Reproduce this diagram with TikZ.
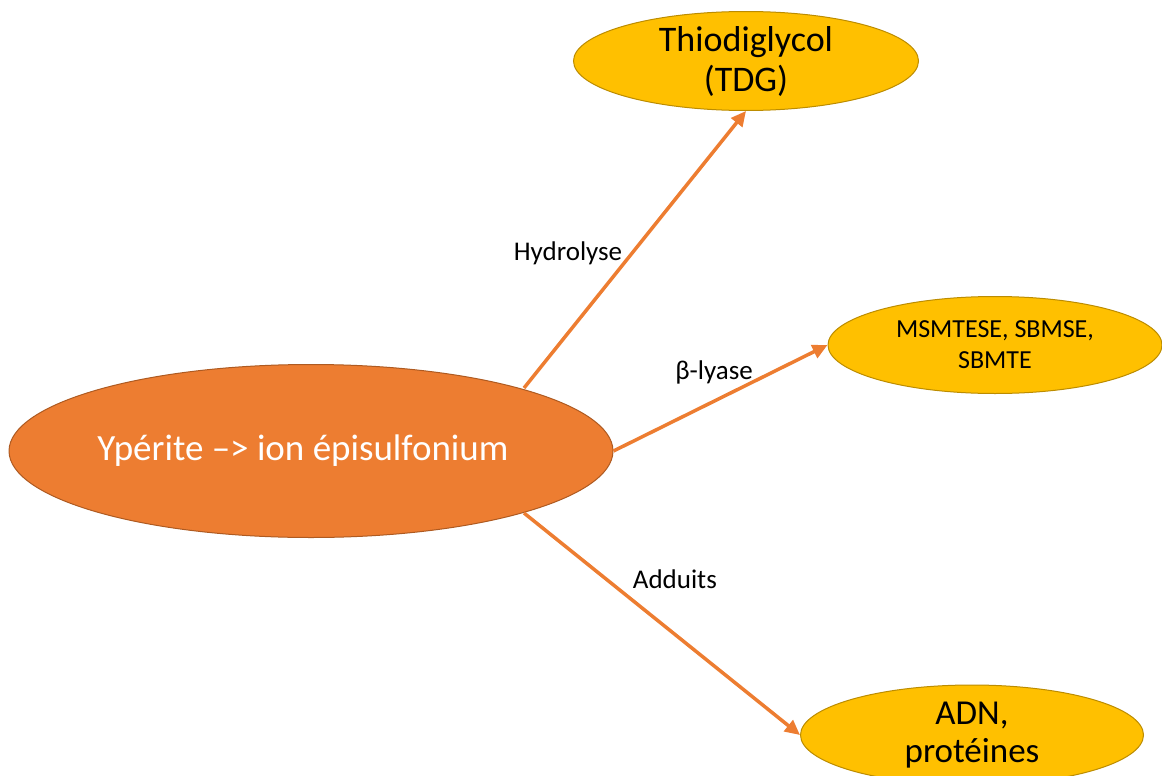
\documentclass[tikz,border=0pt]{standalone}
\usepackage{fontspec}
\setmainfont{Carlito}
\usetikzlibrary{arrows.meta,shapes.geometric}
\definecolor{orangeA}{HTML}{ED7D31}
\definecolor{orangeB}{HTML}{AE5A21}
\definecolor{goldA}{HTML}{FFC000}
\definecolor{goldB}{HTML}{BC8C00}
\begin{document}
\begin{tikzpicture}[x=1pt,y=-1pt,
    mainnode/.style={ellipse,draw=orangeB,fill=orangeA,line width=1pt,text=white,
      minimum width=603pt,minimum height=173pt,inner sep=0pt,
      font=\fontsize{37}{42}\selectfont},
    product/.style={ellipse,draw=goldB,fill=goldA,line width=1pt,align=center,
      inner sep=0pt},
    route/.style={draw=orangeA,line width=3.5pt,-{Triangle[length=15pt,width=14pt]}},
    routelabel/.style={font=\fontsize{27}{31}\selectfont,inner sep=1pt}]
  \useasboundingbox (0,0) rectangle (1162,776);
  \node[mainnode] (yp) at (311,451) {Ypérite –> ion épisulfonium\hspace*{16pt}};
  \node[product,minimum width=345pt,minimum height=98pt,
    font=\fontsize{36}{40}\selectfont] (tdg) at (746,61) {Thiodiglycol\\(TDG)};
  \node[product,minimum width=334pt,minimum height=97pt,
    font=\fontsize{26}{31}\selectfont] (ms) at (995,345) {MSMTESE, SBMSE,\\SBMTE};
  \node[product,minimum width=343pt,minimum height=100pt,
    font=\fontsize{35}{38}\selectfont] (adn) at (972,735) {ADN,\\protéines};
  \coordinate (h0) at (524,388);
  \coordinate (a0) at (524,513);
  \draw[route] (h0) -- (tdg.south) node[routelabel,pos=0.486,left=7pt] {Hydrolyse};
  \draw[route] (yp.east) -- (ms.west) node[routelabel,pos=0.47,above=14pt] {β-lyase};
  \draw[route] (a0) -- (adn.west) node[routelabel,pos=0.37,above right=4pt] {Adduits};
\end{tikzpicture}
\end{document}
